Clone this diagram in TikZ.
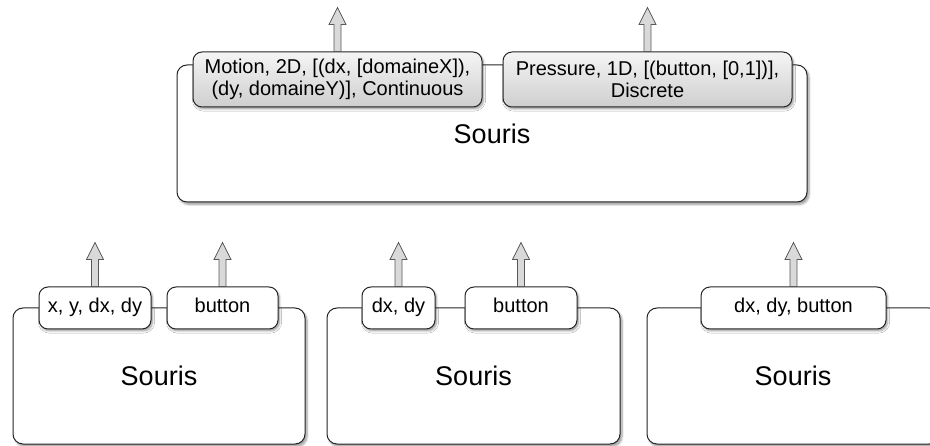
\documentclass[tikz,border=0pt]{standalone}
\usepackage{fontspec}
\setmainfont{Liberation Sans}
\usetikzlibrary{shadows.blur}

\tikzset{
  device/.style={draw=black!85, line width=1pt, fill=white, rounded corners=10pt,
    blur shadow={shadow xshift=2pt, shadow yshift=-2.5pt, shadow blur steps=6},
    font=\fontsize{27}{30}\selectfont},
  port/.style={draw=black!85, line width=1pt, fill=white, rounded corners=9pt,
    minimum height=42pt, inner sep=0pt, text height=14.5pt, text depth=4.5pt,
    font=\fontsize{20}{22}\selectfont,
    blur shadow={shadow xshift=1.5pt, shadow yshift=-2pt, shadow blur steps=5}},
  shadedport/.style={port, minimum height=55pt, align=center,
    text height=, text depth=, top color=gray!8, bottom color=gray!38},
  fatarrow/.style={draw=black!65, fill=gray!30, line width=0.8pt, line join=miter}
}

\begin{document}
\begin{tikzpicture}[x=1pt,y=1pt]
    \useasboundingbox (0,0) rectangle (930,445);
    \clip (0,0) rectangle (930,445);
    % 上方的设备
    \node[device, minimum width=630pt, minimum height=137pt] (top) at (492,311.5) {Souris};
    \node[shadedport, minimum width=289pt] (mo) at (337.5,365.5)
      {Motion, 2D, [(dx, [domaineX]),\\(dy, domaineY)], Continuous};
    \node[shadedport, minimum width=289pt] (pr) at (647.5,365.5)
      {Pressure, 1D, [(button, [0,1])],\\Discrete};
    % 下方的三个设备
    \node[device, minimum width=292pt, minimum height=136pt] (s1) at (159,69) {Souris};
    \node[device, minimum width=293pt, minimum height=136pt] (s2) at (473.5,69) {Souris};
    \node[device, minimum width=292pt, minimum height=136pt] (s3) at (793,69) {Souris};
    \node[port, minimum width=112pt] (p1a) at (95,137) {x, y, dx, dy};
    \node[port, minimum width=111pt] (p1b) at (222.5,137) {button};
    \node[port, minimum width=73pt] (p2a) at (398.5,137) {dx, dy};
    \node[port, minimum width=112pt] (p2b) at (521,137) {button};
    \node[port, minimum width=185pt] (p3) at (793.5,137) {dx, dy, button};
    % 输出箭头
    \foreach \p in {mo,pr,p1a,p1b,p2a,p2b,p3} {
      \draw[fatarrow] (\p.north) ++(-3.5,0) -- ++(0,27) -- ++(-5,0) -- ++(8.5,17)
        -- ++(8.5,-17) -- ++(-5,0) -- ++(0,-27) -- cycle;
    }
  \end{tikzpicture}
\end{document}
